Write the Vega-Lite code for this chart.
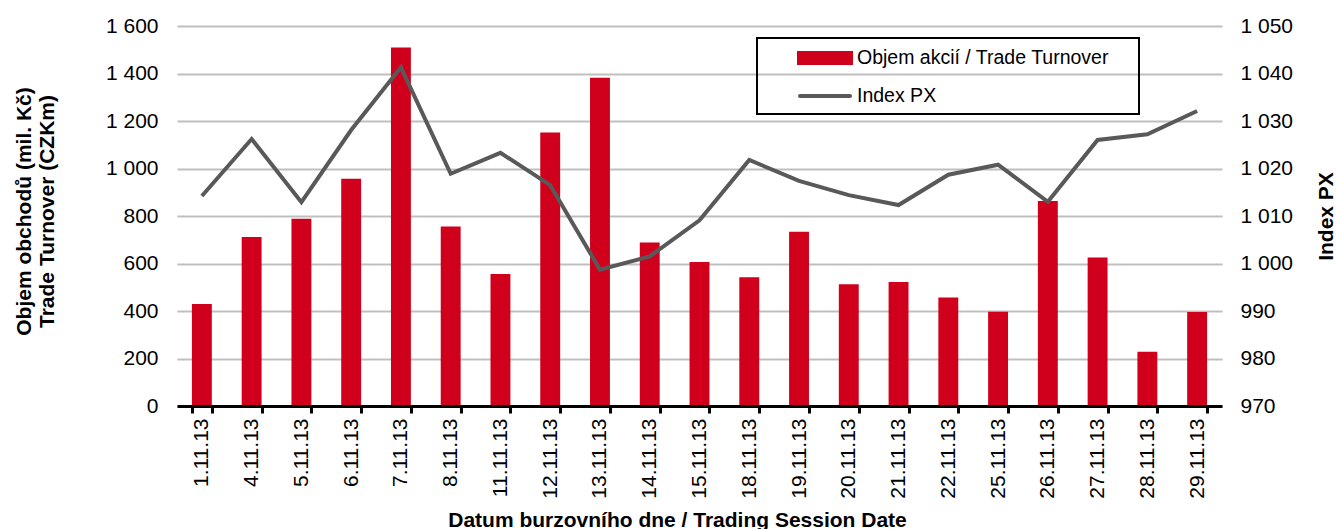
{
  "$schema": "https://vega.github.io/schema/vega-lite/v6.json",
  "width": 1045,
  "height": 380,
  "autosize": "none",
  "padding": {"left": 177, "top": 26, "right": 114, "bottom": 123},
  "config": {
    "view": {"stroke": null},
    "font": "Liberation Sans",
    "axis": {"labelFont": "Liberation Sans", "titleFont": "Liberation Sans", "labelColor": "#000000", "titleColor": "#000000", "labelFontSize": 21, "titleFontSize": 21, "titleFontWeight": "bold"},
    "legend": {"labelFont": "Liberation Sans"}
  },
  "data": {
    "values": [
      {"date": "1.11.13", "turnover": 430, "px": 1014.2},
      {"date": "4.11.13", "turnover": 712, "px": 1026.2},
      {"date": "5.11.13", "turnover": 788, "px": 1012.9},
      {"date": "6.11.13", "turnover": 957, "px": 1028.1},
      {"date": "7.11.13", "turnover": 1509, "px": 1041.3},
      {"date": "8.11.13", "turnover": 756, "px": 1018.9},
      {"date": "11.11.13", "turnover": 556, "px": 1023.3},
      {"date": "12.11.13", "turnover": 1152, "px": 1016.5},
      {"date": "13.11.13", "turnover": 1382, "px": 998.7},
      {"date": "14.11.13", "turnover": 688, "px": 1001.5},
      {"date": "15.11.13", "turnover": 606, "px": 1009.1},
      {"date": "18.11.13", "turnover": 542, "px": 1021.8},
      {"date": "19.11.13", "turnover": 734, "px": 1017.4},
      {"date": "20.11.13", "turnover": 513, "px": 1014.4},
      {"date": "21.11.13", "turnover": 522, "px": 1012.3},
      {"date": "22.11.13", "turnover": 457, "px": 1018.7},
      {"date": "25.11.13", "turnover": 397, "px": 1020.8},
      {"date": "26.11.13", "turnover": 863, "px": 1013.0},
      {"date": "27.11.13", "turnover": 625, "px": 1026.0},
      {"date": "28.11.13", "turnover": 228, "px": 1027.2},
      {"date": "29.11.13", "turnover": 396, "px": 1032.1}
    ]
  },
  "encoding": {
    "x": {
      "field": "date",
      "type": "ordinal",
      "sort": null,
      "scale": {"paddingInner": 0.6, "paddingOuter": 0.3},
      "axis": {
        "title": "Datum burzovního dne / Trading Session Date",
        "labelAngle": -90,
        "labelPadding": 5,
        "domainColor": "#000000",
        "domainWidth": 3,
        "tickColor": "#000000",
        "tickWidth": 3,
        "tickSize": 7,
        "tickBand": "extent",
        "grid": false,
        "zindex": 1,
        "titleX": 500,
        "titleY": 120,
        "titleAlign": "center",
        "titleBaseline": "alphabetic"
      }
    }
  },
  "layer": [
    {
      "mark": {"type": "bar"},
      "encoding": {
        "y": {
          "field": "turnover",
          "type": "quantitative",
          "scale": {"domain": [0, 1600], "nice": false},
          "axis": {
            "orient": "left",
            "values": [0, 200, 400, 600, 800, 1000, 1200, 1400, 1600],
            "labelExpr": "replace(format(datum.value, ','), ',', ' ')",
            "domain": false,
            "ticks": false,
            "labelPadding": 19,
            "grid": true,
            "gridColor": "#bfbfbf",
            "gridWidth": 2,
            "title": ["Objem obchodů (mil. Kč)", "Trade Turnover (CZKm)"],
            "titleAngle": 270,
            "titleX": -153,
            "titleY": 185,
            "titleAlign": "center",
            "titleBaseline": "middle",
            "titleLineHeight": 23
          }
        },
        "color": {
          "datum": "Objem akcií / Trade Turnover",
          "type": "nominal",
          "scale": {"domain": ["Objem akcií / Trade Turnover", "Index PX"], "range": ["#d0001c", "#595959"]},
          "legend": {
            "orient": "none",
            "legendX": 580,
            "legendY": 12,
            "title": null,
            "labelFontSize": 19.5,
            "labelColor": "#000000",
            "labelLimit": 500,
            "labelExpr": "datum.label + '\u00a0\u00a0\u00a0\u00a0\u200b'",
            "padding": 8,
            "rowPadding": 13,
            "symbolOffset": 48,
            "labelOffset": 20,
            "strokeColor": "#000000",
            "symbolSize": 400,
            "encode": {
              "legend": {"update": {"strokeWidth": {"value": 2}}},
              "symbols": {
                "update": {
                  "shape": {"signal": "datum.value === 'Index PX' ? 'M-2.5,0H2.5' : 'M-2.6,-0.5H2.6V0.5H-2.6Z'"},
                  "fill": {"signal": "datum.value === 'Index PX' ? 'transparent' : '#d0001c'"},
                  "stroke": {"signal": "datum.value === 'Index PX' ? '#595959' : 'transparent'"},
                  "strokeWidth": {"value": 4},
                  "strokeCap": {"value": "round"},
                  "opacity": {"value": 1}
                }
              }
            }
          }
        }
      }
    },
    {
      "mark": {"type": "line", "strokeWidth": 4},
      "encoding": {
        "y": {
          "field": "px",
          "type": "quantitative",
          "scale": {"domain": [970, 1050], "nice": false, "zero": false},
          "axis": {
            "orient": "right",
            "values": [970, 980, 990, 1000, 1010, 1020, 1030, 1040, 1050],
            "labelExpr": "replace(format(datum.value, ','), ',', ' ')",
            "domain": false,
            "ticks": false,
            "grid": false,
            "labelPadding": 18,
            "title": "Index PX",
            "titleAngle": 270,
            "titleX": 104,
            "titleY": 190,
            "titleAlign": "center",
            "titleBaseline": "middle"
          }
        },
        "color": {"datum": "Index PX", "type": "nominal"}
      }
    }
  ],
  "resolve": {"scale": {"y": "independent"}}
}
